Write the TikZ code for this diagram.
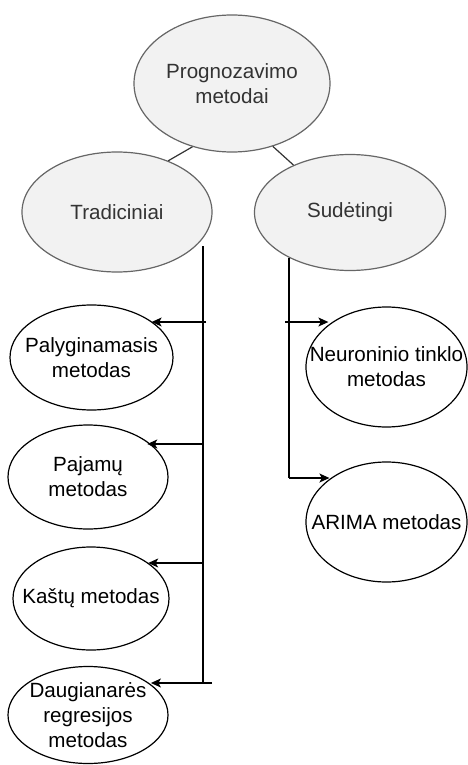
\documentclass[tikz,border=0pt]{standalone}
\usepackage{fontspec}
\setmainfont{Liberation Sans}
\usetikzlibrary{shapes.geometric,arrows.meta}
\definecolor{topfill}{HTML}{F2F2F2}
\definecolor{topline}{HTML}{666666}
\definecolor{toptext}{HTML}{333333}
\begin{document}
\begin{tikzpicture}[x=1pt,y=-1pt,
  topell/.style={ellipse,draw=topline,fill=topfill,line width=1.2pt,inner sep=0pt},
  leafell/.style={ellipse,draw=black,fill=white,line width=1.2pt,inner sep=0pt},
  ttxt/.style={align=center,inner sep=0pt,text=toptext,font=\fontsize{20.6}{25}\selectfont},
  ltxt/.style={align=center,inner sep=0pt,text=black,font=\fontsize{20.6}{25}\selectfont},
  link/.style={draw=black,line width=1.2pt},
  arr/.style={link,-{Stealth[length=10pt,width=9pt,inset=2.5pt]}}
]
\useasboundingbox (0,0) rectangle (467,765);
% top row
\node[topell,minimum width=196pt,minimum height=137pt] (root) at (232,83.5) {};
\node[ttxt] (root-t) at (root) {Prognozavimo\\metodai};
\node[topell,minimum width=190pt,minimum height=120pt] (trad) at (117,212) {};
\node[ttxt] (trad-t) at (trad) {Tradiciniai};
\node[topell,minimum width=191pt,minimum height=116pt] (sud) at (350,212.5) {};
\node[ttxt] (sud-t) at (sud) {Sudėtingi};
% left leaves
\node[leafell,minimum width=163pt,minimum height=105pt] (pal) at (91.5,357.5) {};
\node[ltxt] (pal-t) at (pal) {Palyginamasis\\metodas};
\node[leafell,minimum width=160pt,minimum height=104pt] (paj) at (88,477) {};
\node[ltxt] (paj-t) at (paj) {Pajamų\\metodas};
\node[leafell,minimum width=156pt,minimum height=103pt] (kas) at (91,598.5) {};
\node[ltxt] (kas-t) at (kas) {Kaštų metodas};
\node[leafell,minimum width=160pt,minimum height=97pt] (dau) at (88,715) {};
\node[ltxt] (dau-t) at (dau) {Daugianarės\\regresijos\\metodas};
% right leaves
\node[leafell,minimum width=161pt,minimum height=120pt] (neu) at (386.5,367) {};
\node[ltxt] (neu-t) at (neu) {Neuroninio tinklo\\metodas};
\node[leafell,minimum width=161pt,minimum height=120pt] (ari) at (386.5,522) {};
\node[ltxt] (ari-t) at (ari) {ARIMA metodas};
% connectors top
\draw[link,draw=toptext] (root.238) -- (trad.45.5);
\draw[link,draw=toptext] (root.303) -- (sud.140);
% left trunk
\coordinate (ltop) at (203,246);
\coordinate (lbot) at (203,683);
\coordinate (j1) at (206,322);
\coordinate (j2) at (203,444);
\coordinate (j3) at (203,563);
\coordinate (j4) at (212,683);
\draw[link] (ltop) -- (lbot);
\draw[arr] (j1) -- (j1 -| pal.31);
\draw[arr] (j2) -- (j2 -| paj.31);
\draw[arr] (j3) -- (j3 -| kas.32);
\draw[arr] (j4) -- (j4 -| dau.26);
% right trunk
\coordinate (rtop) at (289,258);
\coordinate (rbot) at (289,478);
\coordinate (k1) at (285,322);
\draw[link] (rtop) -- (rbot);
\draw[arr] (k1) -- (k1 -| neu.144);
\draw[arr] (rbot) -- (rbot -| ari.143);
\end{tikzpicture}
\end{document}
